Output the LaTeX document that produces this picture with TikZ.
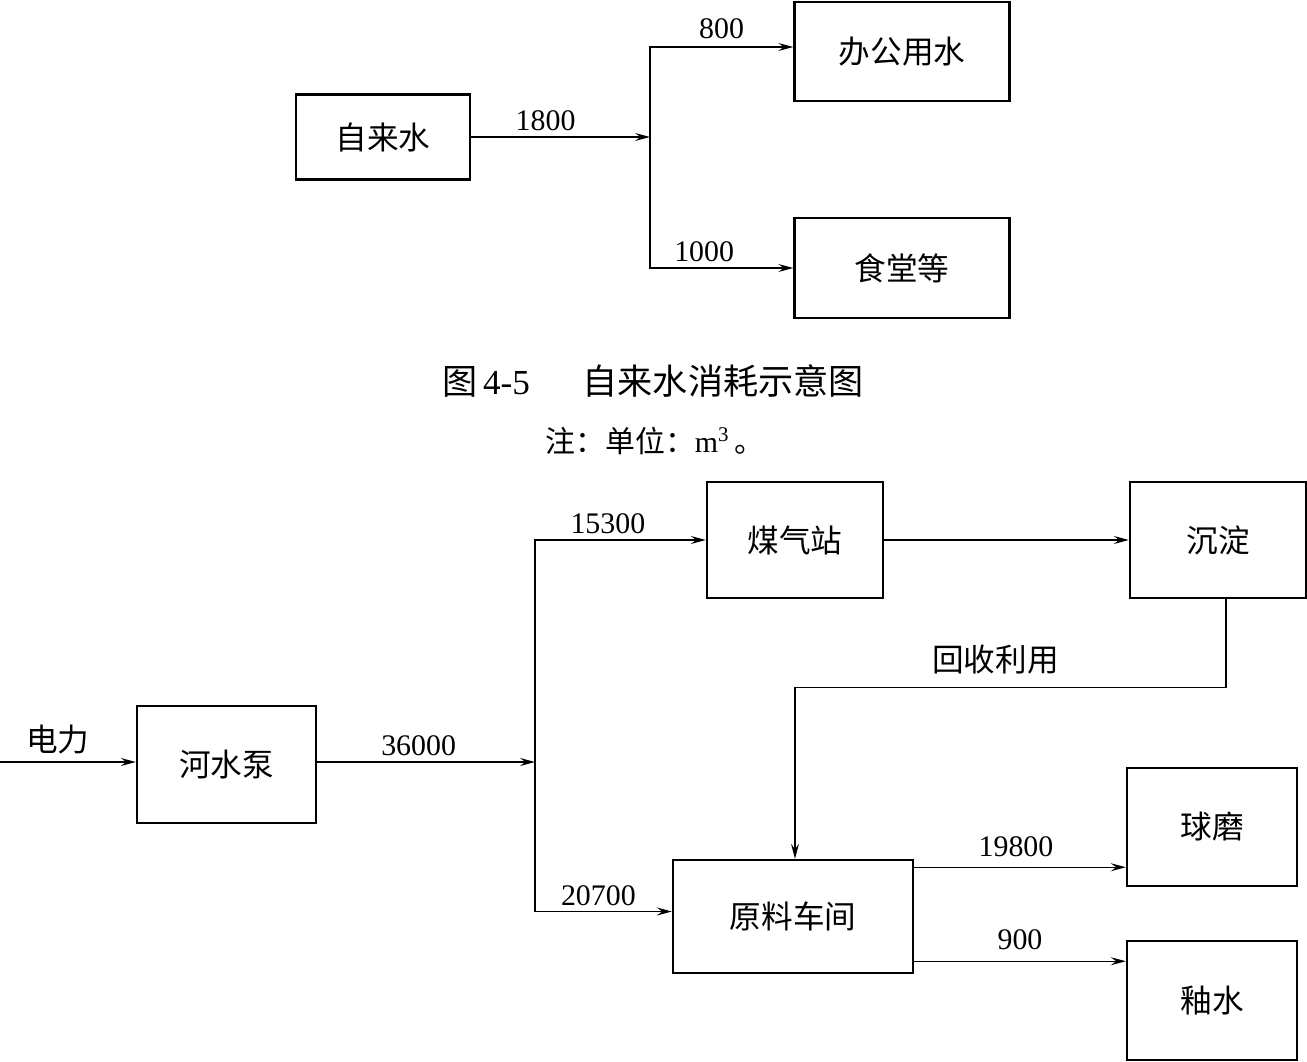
\documentclass[tikz,border=0pt]{standalone}
\usepackage{fontspec}
\setmainfont{Liberation Serif}
\newfontfamily\cjk{Noto Sans CJK SC}
\usepackage{tikz}
\usetikzlibrary{positioning, arrows.meta}
\tikzset{
  procbox/.style={
    draw=black, line width=1.4pt, minimum width=3.5cm, minimum height=2.3cm,
    align=center, font=\cjk\fontsize{18}{21}\selectfont, inner sep=2pt
  },
  flowarrow/.style={-{Stealth[length=3mm, width=1.6mm, inset=1.1mm]}, line width=0.6pt},
  flowlabel/.style={font=\fontsize{17}{20}\selectfont, inner sep=1pt, above=2pt},
  cjklabel/.style={font=\cjk\fontsize{18}{21}\selectfont, inner sep=1pt, above=3pt}
}

\begin{document}
\begin{tikzpicture}
  \useasboundingbox (0,0) rectangle (26.14,-21.24);

  % tap water
  \node[procbox, minimum width=3.48cm, minimum height=1.7cm] (tapwater) at (7.66,-2.74) {自来水};
  \node[procbox, minimum width=4.3cm, minimum height=1.98cm] (office) at (18.04,-1.03) {办公用水};
  \node[procbox, minimum width=4.3cm, minimum height=2.0cm] (canteen) at (18.04,-5.36) {食堂等};
  \coordinate (split1) at (13.0,-2.74);

  \draw[flowarrow] (tapwater) -- (split1) node[flowlabel, midway, xshift=-0.3cm] {1800};
  \draw[flowarrow] (split1) |- ([yshift=0.09cm]office.west) node[flowlabel, pos=0.75, yshift=0.05cm] {800};
  \draw[flowarrow] (split1) |- (canteen.west) node[flowlabel, pos=0.75, xshift=-0.35cm] {1000};

  \node[font=\fontsize{20}{24}\selectfont] (caption) at (13.06,-7.62) {{\cjk 图}\,4-5\hspace{1.5em}{\cjk 自来水消耗示意图}};
  \node[font=\fontsize{17}{20}\selectfont] (note) at (13.1,-8.82) {{\cjk 注：单位：}m\textsuperscript{3}\,{\cjk 。}};

  % river water
  \node[procbox, minimum width=3.58cm, minimum height=2.34cm] (pump) at (4.53,-15.29) {河水泵};
  \node[procbox, minimum width=3.52cm, minimum height=2.32cm] (gas) at (15.9,-10.8) {煤气站};
  \node[procbox, minimum width=3.52cm, minimum height=2.32cm] (settle) at (24.36,-10.8) {沉淀};
  \node[procbox, minimum width=4.8cm, minimum height=2.26cm] (rawmat) at (15.86,-18.33) {原料车间};
  \node[procbox, minimum width=3.4cm, minimum height=2.36cm] (mill) at (24.24,-16.54) {球磨};
  \node[procbox, minimum width=3.4cm, minimum height=2.38cm] (glaze) at (24.24,-20.01) {釉水};
  \coordinate (power) at (0,-15.24);
  \coordinate (split2) at (10.7,-15.24);

  \draw[flowarrow] (power) -- (pump.west |- power) node[cjklabel, midway, xshift=-0.2cm] {电力};
  \draw[flowarrow] (pump.east |- split2) -- (split2) node[flowlabel, midway, xshift=-0.15cm] {36000};
  \draw[flowarrow] (split2) |- (gas.west) node[flowlabel, pos=0.75, xshift=-0.25cm] {15300};
  \draw[flowarrow] (split2) |- ([yshift=0.1cm]rawmat.west) node[flowlabel, pos=0.75, xshift=-0.1cm] {20700};
  \draw[flowarrow] (gas) -- (settle);
  \draw[flowarrow] ([xshift=0.16cm]settle.south) -- ++(0,-1.76) -| ([xshift=0.04cm]rawmat.north)
    node[cjklabel, pos=0.25, yshift=0.1cm, xshift=-0.3cm] {回收利用};
  \draw[flowarrow] ([yshift=0.4cm]mill.south west -| rawmat.east) -- ([yshift=0.4cm]mill.south west)
    node[flowlabel, midway, yshift=0.1cm, xshift=-0.08cm] {19800};
  \draw[flowarrow] ([yshift=0.26cm]rawmat.south east) -- ([yshift=0.26cm]rawmat.south east -| glaze.west)
    node[flowlabel, midway, yshift=0.12cm] {900};
\end{tikzpicture}
\end{document}
